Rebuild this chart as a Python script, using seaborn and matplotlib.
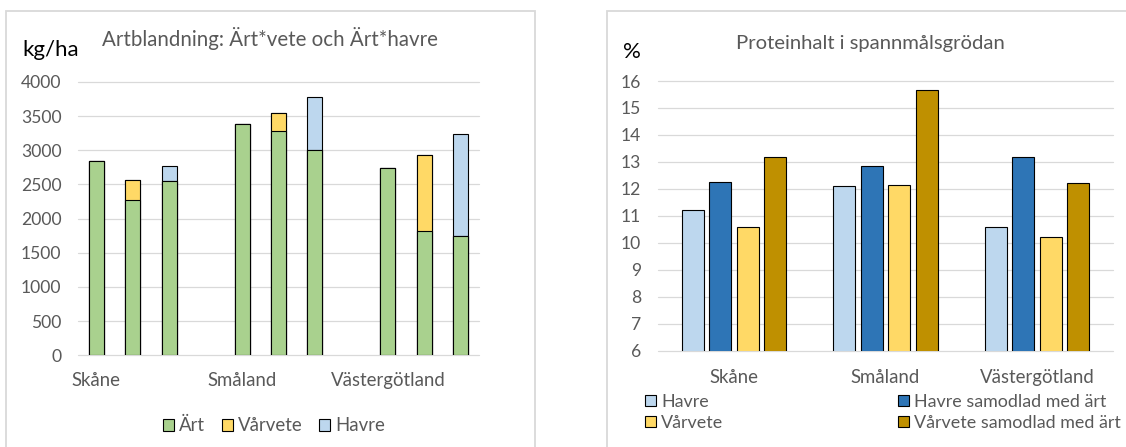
import matplotlib
matplotlib.use("Agg")
import matplotlib.pyplot as plt
from matplotlib.patches import Rectangle
import seaborn as sns
import pandas as pd

# ---- data -------------------------------------------------------------
regions = ["Skåne", "Småland", "Västergötland"]
mixes = ["Ärt", "Ärt*vete", "Ärt*havre"]

# yield, kg/ha, per region and mix (Skåne x3, Småland x3, Västergötland x3)
art_kg = [2840, 2280, 2545, 3390, 3290, 3010, 2745, 1815, 1750]
varvete_kg = [0, 280, 0, 0, 250, 0, 0, 1120, 0]
havre_kg = [0, 0, 220, 0, 0, 765, 0, 0, 1495]
yield_ticks = list(range(0, 4001, 500))

# protein content in the cereal, %
protein_series = ["Havre", "Havre samodlad med ärt", "Vårvete", "Vårvete samodlad med ärt"]
havre_pct = [11.2, 12.1, 10.6]
havre_mix_pct = [12.25, 12.85, 13.2]
varvete_pct = [10.6, 12.15, 10.2]
varvete_mix_pct = [13.2, 15.65, 12.2]
protein_ticks = list(range(6, 17))

# ---- style ------------------------------------------------------------
ART_C = "#A9D18E"
VARVETE_C = "#FFD966"
HAVRE_C = "#BDD7EE"
HAVRE_MIX_C = "#2E75B6"
VARVETE_MIX_C = "#BF9000"
GRID_C = "#D9D9D9"
TEXT_C = "#595959"

sns.set_theme(style="white")
plt.rcParams["font.family"] = ["Lato", "DejaVu Sans"]

W, H = 1126, 447
fig = plt.figure(figsize=(W / 100, H / 100), dpi=100)


def fx(px):
    return px / W


def fy(py):
    return 1 - py / H


# chart frames
for x0, x1 in [(5.7, 535), (607, 1140)]:
    fig.add_artist(Rectangle((fx(x0), fy(470)), fx(x1) - fx(x0), fy(11) - fy(470),
                             transform=fig.transFigure, fill=False,
                             edgecolor=GRID_C, linewidth=1.3))

ax1 = fig.add_axes([fx(78), fy(355.3), fx(479) - fx(78), (355.3 - 82) / H])
ax2 = fig.add_axes([fx(658), fy(350.7), fx(1112.7) - fx(658), (350.7 - 81) / H])

# ---- left: stacked yield bars ----------------------------------------
keys = [f"{r}|{m}" for r in regions for m in mixes]
order = []
for i, r in enumerate(regions):
    if i:
        order.append(f"gap{i}")
    order += [f"{r}|{m}" for m in mixes]

ydf = pd.DataFrame({"key": keys, "Ärt": art_kg, "Vårvete": varvete_kg, "Havre": havre_kg})
ydf["upto_vete"] = ydf["Ärt"] + ydf["Vårvete"]
ydf["upto_havre"] = ydf["upto_vete"] + ydf["Havre"]

for col, colr, lab in [("upto_havre", HAVRE_C, "Havre"),
                       ("upto_vete", VARVETE_C, "Vårvete"),
                       ("Ärt", ART_C, "Ärt")]:
    sns.barplot(data=ydf, x="key", y=col, order=order, color=colr, saturation=1,
                width=0.41, edgecolor="black", linewidth=0.8, errorbar=None,
                label=lab, ax=ax1)

ax1.set_xlim(-0.5, len(order) - 0.5)
ax1.set_ylim(0, 4000)
ax1.set_yticks(yield_ticks)
ax1.set_xticks([order.index(f"{r}|{mixes[0]}") for r in regions], regions)

h1, l1 = ax1.get_legend_handles_labels()
if ax1.get_legend() is not None:
    ax1.get_legend().remove()
lab_order = ["Ärt", "Vårvete", "Havre"]
h1 = [h1[l1.index(s)] for s in lab_order]
fig.legend(h1, lab_order, loc="center", bbox_to_anchor=(fx(274), fy(425.7)),
           ncol=3, frameon=False, fontsize=13.4, labelcolor=TEXT_C,
           handlelength=0.6, handleheight=0.6, handletextpad=0.25,
           columnspacing=0.9, borderpad=0, borderaxespad=0)

# ---- right: protein bars ---------------------------------------------
pdf = pd.DataFrame({
    "region": regions * len(protein_series),
    "series": [s for s in protein_series for _ in regions],
    "value": havre_pct + havre_mix_pct + varvete_pct + varvete_mix_pct,
})
palette = dict(zip(protein_series, [HAVRE_C, HAVRE_MIX_C, VARVETE_C, VARVETE_MIX_C]))
sns.barplot(data=pdf, x="region", y="value", hue="series", order=regions,
            hue_order=protein_series, palette=palette, saturation=1,
            width=0.725, gap=0.2, edgecolor="black", linewidth=0.8,
            errorbar=None, ax=ax2)
leg = ax2.get_legend()
h2 = list(leg.legend_handles)
l2 = [t.get_text() for t in leg.get_texts()]
leg.remove()

ax2.set_xlim(-0.5, len(regions) - 0.5)
ax2.set_ylim(6, 16)
ax2.set_yticks(protein_ticks)

legend_kw = dict(frameon=False, fontsize=12.9, labelcolor=TEXT_C,
                 handlelength=0.62, handleheight=0.62, handletextpad=0.28,
                 labelspacing=0.3, borderpad=0, borderaxespad=0, loc="center left")
for names, xpx in [(["Havre", "Vårvete"], 645),
                   (["Havre samodlad med ärt", "Vårvete samodlad med ärt"], 897.7)]:
    fig.legend([h2[l2.index(n)] for n in names], names,
               bbox_to_anchor=(fx(xpx), fy(412.3)), **legend_kw)

# ---- shared axis styling ---------------------------------------------
for ax, ticks, xpad in [(ax1, yield_ticks, 12), (ax2, protein_ticks, 13)]:
    ax.set_xlabel("")
    ax.set_ylabel("")
    for s in ax.spines.values():
        s.set_visible(False)
    for t in ticks:
        ax.axhline(t, color=GRID_C, linewidth=0.9, zorder=0.5, clip_on=False)
    ax.tick_params(axis="y", length=0, pad=12, labelsize=12.6, labelcolor=TEXT_C)
    ax.tick_params(axis="x", length=0, pad=xpad, labelsize=13.4, labelcolor=TEXT_C)

# ---- titles and units -------------------------------------------------
fig.text(fx(269.7), fy(38.5), "Artblandning: Ärt*vete och Ärt*havre",
         ha="center", va="center", fontsize=14.8, color=TEXT_C)
fig.text(fx(870), fy(43), "Proteinhalt i spannmålsgrödan",
         ha="center", va="center", fontsize=14.6, color=TEXT_C)
fig.text(fx(22.7), fy(49.5), "kg/ha", ha="left", va="center", fontsize=16, color="black")
fig.text(fx(623), fy(52), "%", ha="left", va="center", fontsize=16, color="black")

fig.savefig("out.png", dpi=100)
